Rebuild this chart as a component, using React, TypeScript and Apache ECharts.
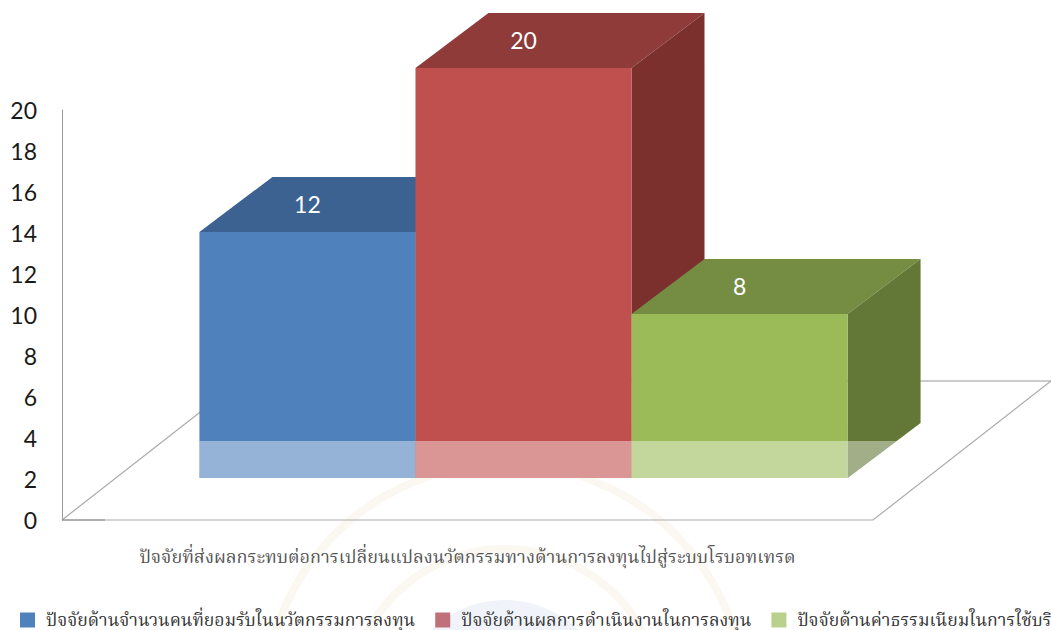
import React, { useEffect, useRef } from "react";
import * as echarts from "echarts";

const categories = ["ปัจจัยที่ส่งผลกระทบต่อการเปลี่ยนแปลงนวัตกรรมทางด้านการลงทุนไปสู่ระบบโรบอทเทรด"];
const seriesNames = [
  "ปัจจัยด้านจำนวนคนที่ยอมรับในนวัตกรรมการลงทุน",
  "ปัจจัยด้านผลการดำเนินงานในการลงทุน",
  "ปัจจัยด้านค่าธรรมเนียมในการใช้บริการ",
];
const seriesValues = [12, 20, 8];
const frontColors = ["#4f81bd", "#c0504d", "#9bbb59"];
const topColors = ["#3c6291", "#8f3b39", "#748d43"];
const sideColors = ["#335479", "#7b302e", "#637837"];
const legendColors = ["#4f81bd", "#c0707a", "#b9d18d"];
const yTicks = { min: 0, max: 20, interval: 2 };

const THAI = '"Liberation Serif","Noto Serif Thai","Noto Sans Thai","DejaVu Sans",serif';
const NUM = 'Lato, "Open Sans", sans-serif';
const DEPTH_X = 73;
const DEPTH_Y = 55;
const BASE_DX = 56;
const BASE_DY = 42;
const FLOOR_DX = 178;
const FLOOR_DY = 139;
const BAR_RATIO = 0.2664;
const REFLECT = 37;

function poly(points: number[][], fill: string) {
  return { type: "polygon", shape: { points }, style: { fill } };
}

function barSeries(i: number) {
  return {
    type: "custom",
    name: seriesNames[i],
    coordinateSystem: "cartesian2d",
    z: 5 + i,
    data: [[0, seriesValues[i]]],
    renderItem: (_p: any, api: any) => {
      const top = api.coord([0, api.value(1)]);
      const bottom = api.coord([0, 0]);
      const w = api.size([1, 0])[0] * BAR_RATIO;
      const cx = top[0] + BASE_DX + (i - 1) * w;
      const l = cx - w / 2;
      const r = cx + w / 2;
      const t = top[1] - BASE_DY;
      const b = bottom[1] - BASE_DY;
      const dx = DEPTH_X;
      const dy = DEPTH_Y;
      const rt = b - REFLECT;
      const rdx = (REFLECT / dy) * dx;
      const children: any[] = [
        poly([[l, t], [r, t], [r + dx, t - dy], [l + dx, t - dy]], topColors[i]),
        poly([[r, t], [r + dx, t - dy], [r + dx, b - dy], [r, b]], sideColors[i]),
        poly([[l, t], [r, t], [r, b], [l, b]], frontColors[i]),
        poly([[l, rt], [r, rt], [r, b], [l, b]], "rgba(255,255,255,0.4)"),
        poly([[r, rt], [r + rdx, rt], [r, b]], "rgba(255,255,255,0.4)"),
        {
          type: "text",
          style: {
            x: cx,
            y: t - 28,
            text: String(api.value(1)),
            fill: "#ffffff",
            font: `23px ${NUM}`,
            align: "center",
            verticalAlign: "middle",
          },
        },
      ];
      return { type: "group", children };
    },
  };
}

const floorSeries = {
  type: "custom",
  name: "floor",
  coordinateSystem: "cartesian2d",
  silent: true,
  z: 1,
  data: [[0, 0]],
  renderItem: (_p: any, api: any) => {
    const o = api.coord([0, 0]);
    const w = api.size([1, 0])[0];
    const l = o[0] - w / 2;
    const r = o[0] + w / 2;
    const y = o[1];
    const line = (pts: number[][], stroke: string, lineWidth = 1.2) => ({
      type: "polyline",
      shape: { points: pts },
      style: { fill: "none", stroke, lineWidth },
    });
    return {
      type: "group",
      children: [
        line([[l, y], [r, y], [r + FLOOR_DX, y - FLOOR_DY]], "#ababab"),
        line([[l, y], [l + FLOOR_DX, y - FLOOR_DY]], "#ababab"),
        line([[l + FLOOR_DX, y - FLOOR_DY], [r + FLOOR_DX, y - FLOOR_DY]], "#9a9a9a"),
        line([[l, y], [l + 43, y]], "#8a8a8a"),
      ],
    };
  },
};

const watermark = [
  { type: "circle", shape: { cx: 505, cy: 705, r: 105 }, style: { fill: "#f0f4fa" } },
  { type: "ring", shape: { cx: 505, cy: 705, r: 245, r0: 237 }, style: { fill: "#fbf8f1" } },
  { type: "ring", shape: { cx: 505, cy: 705, r: 160, r0: 152 }, style: { fill: "#fbf8f1" } },
].map((g) => ({ ...g, silent: true, z: -10 }));

export default function App() {
  const ref = useRef<HTMLDivElement>(null);
  useEffect(() => {
    const chart = echarts.init(ref.current!, undefined, { renderer: "svg" });
    chart.setOption({
      animation: false,
      backgroundColor: "#ffffff",
      graphic: { elements: watermark },
      grid: { left: 62, top: 110, width: 811, height: 410, containLabel: false },
      xAxis: {
        type: "category",
        data: categories,
        axisLine: { show: false },
        axisTick: { show: false },
        axisLabel: {
          color: "#555555",
          fontFamily: THAI,
          fontSize: 18,
          margin: 28,
          interval: 0,
        },
      },
      yAxis: {
        type: "value",
        ...yTicks,
        axisLine: { show: true, lineStyle: { color: "#9a9a9a", width: 1 } },
        axisTick: { show: false },
        splitLine: { show: false },
        axisLabel: {
          color: "#1a1a1a",
          fontFamily: NUM,
          fontSize: 23,
          margin: 25,
        },
      },
      legend: {
        left: 15,
        top: 606,
        width: 2000,
        itemWidth: 15,
        itemHeight: 15,
        itemGap: 20,
        textStyle: { fontFamily: THAI, fontSize: 17.6, color: "#333333", padding: [0, 0, 0, 6] },
        data: seriesNames.map((name, i) => ({
          name,
          icon: "rect",
          itemStyle: { color: legendColors[i] },
        })),
      },
      series: [floorSeries, ...seriesValues.map((_, i) => barSeries(i))],
    });
    return () => chart.dispose();
  }, []);
  return <div ref={ref} style={{ position: "fixed", left: 0, top: 0, width: 1051, height: 630 }} />;
}
